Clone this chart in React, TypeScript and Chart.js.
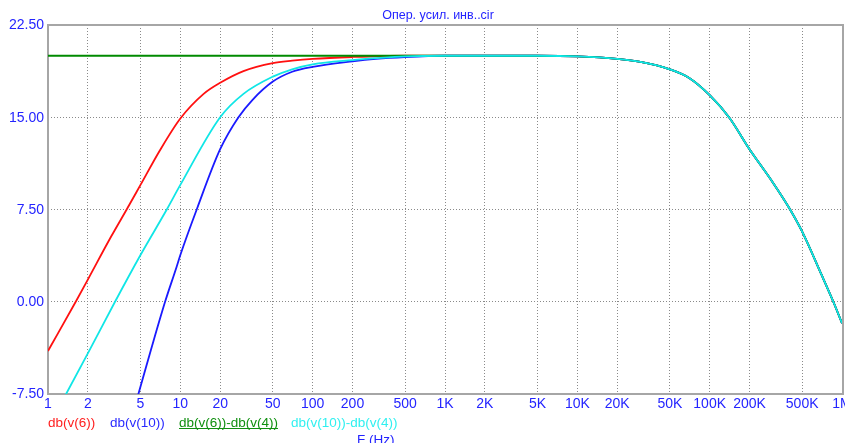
import React, { useEffect, useRef } from "react";
import { Chart, registerables } from "chart.js";

Chart.register(...registerables);

const chartTitle = "Опер. усил. инв..cir";
const xAxisTitle = "F (Hz)";

const xTickValues = [1, 2, 5, 10, 20, 50, 100, 200, 500, 1e3, 2e3, 5e3, 1e4, 2e4, 5e4, 1e5, 2e5, 5e5, 1e6];
const xTickLabels = ["1", "2", "5", "10", "20", "50", "100", "200", "500", "1K", "2K", "5K", "10K", "20K", "50K", "100K", "200K", "500K", "1M"];
const yTickValues = [-7.5, 0, 7.5, 15, 22.5];

const seriesNames = ["db(v(6))", "db(v(10))", "db(v(6))-db(v(4))", "db(v(10))-db(v(4))"];
const seriesColors = ["#ff1010", "#1a1aff", "#008a00", "#10e6e6"];
const legendColors = ["#ff2020", "#2a2aff", "#109010", "#30f0f0"];

// low-frequency parts (Hz, dB)
const redFreq = [1, 1.62, 2, 3, 3.93, 5, 7, 10, 15, 20, 30, 50, 70, 100, 200, 500];
const redDb = [-4.0, 0, 1.8, 5.3, 7.5, 9.5, 12.3, 14.9, 16.9, 17.8, 18.75, 19.4, 19.6, 19.75, 19.9, 20.0];

const blueFreq = [4, 4.82, 6, 7.67, 9.38, 10, 13.3, 20, 27.5, 35, 50, 70, 100, 200, 300, 500];
const blueDb = [-10.5, -7.5, -3.9, 0, 2.85, 3.8, 7.5, 12.4, 15.0, 16.4, 17.9, 18.7, 19.1, 19.55, 19.75, 19.9];

const greenFreq = [1, 10, 100, 500];
const greenDb = [20, 20, 20, 20];

const cyanFreq = [1, 1.37, 2, 3.21, 5, 7.9, 10, 20, 30, 50, 70, 100, 200, 300, 500];
const cyanDb = [-10.2, -7.5, -4.2, 0, 3.8, 7.5, 9.5, 15.0, 16.9, 18.3, 18.9, 19.3, 19.65, 19.8, 19.95];

// common high-frequency roll-off (Hz, dB)
const hiFreq = [1e3, 2e3, 5e3, 1e4, 2e4, 3e4, 5e4, 7e4, 1e5, 1.4e5, 2e5, 3e5, 4e5, 5e5, 7e5, 8.6e5, 1e6];
const hiDb = [20, 20, 20, 19.95, 19.75, 19.5, 18.9, 18.2, 16.8, 15.0, 12.4, 9.7, 7.6, 5.7, 2.2, 0, -1.75];

const toPoints = (f: number[], d: number[]) => {
  const pts = f.map((x, i) => ({ x, y: d[i] }));
  return pts.concat(hiFreq.map((x, i) => ({ x, y: hiDb[i] })));
};

export default function App() {
  const ref = useRef<HTMLCanvasElement | null>(null);

  useEffect(() => {
    document.body.style.margin = "0";
    const canvas = ref.current;
    if (!canvas) return;

    const textBlue = "#2424ff";
    const font = "'Liberation Sans', Arial, sans-serif";

    const decor = {
      id: "decor",
      beforeDatasetsDraw(chart: any) {
        const { ctx, chartArea } = chart;
        ctx.save();
        ctx.strokeStyle = "#a6a6a6";
        ctx.lineWidth = 2;
        ctx.strokeRect(chartArea.left, chartArea.top, chartArea.right - chartArea.left + 1, chartArea.bottom - chartArea.top);
        ctx.restore();
      },
      afterDraw(chart: any) {
        const { ctx, chartArea } = chart;
        const xs = chart.scales.x;
        const ys = chart.scales.y;
        ctx.save();
        ctx.fillStyle = textBlue;
        ctx.font = `14px ${font}`;
        ctx.textBaseline = "middle";
        ctx.textAlign = "right";
        yTickValues.forEach((v) => {
          ctx.fillText(v.toFixed(2), chartArea.left - 4, ys.getPixelForValue(v) + 0.5);
        });
        ctx.textAlign = "center";
        xTickValues.forEach((v, i) => {
          ctx.fillText(xTickLabels[i], xs.getPixelForValue(v), chartArea.bottom + 10);
        });
        // title
        ctx.font = `12.5px ${font}`;
        ctx.fillText(chartTitle, 438, 16);
        // legend
        ctx.font = `13.5px ${font}`;
        ctx.textAlign = "left";
        const lx = [48, 110, 179, 291];
        const ly = chartArea.bottom + 29;
        seriesNames.forEach((n, i) => {
          ctx.fillStyle = legendColors[i];
          ctx.fillText(n, lx[i], ly);
          if (i === 2) {
            const w = ctx.measureText(n).width;
            ctx.fillRect(lx[i], ly + 5, w, 1);
          }
        });
        ctx.fillStyle = textBlue;
        ctx.fillText(xAxisTitle, 357, ly + 17);
        ctx.restore();
      },
    };

    const mk = (i: number, f: number[], d: number[], order: number) => ({
      label: seriesNames[i],
      data: toPoints(f, d),
      borderColor: seriesColors[i],
      backgroundColor: seriesColors[i],
      borderWidth: 1.8,
      pointRadius: 0,
      cubicInterpolationMode: "monotone",
      fill: false,
      order,
    });

    const chart = new Chart(canvas, {
      type: "line",
      data: {
        datasets: [
          mk(0, redFreq, redDb, 3),
          mk(1, blueFreq, blueDb, 2),
          mk(2, greenFreq, greenDb, 1),
          mk(3, cyanFreq, cyanDb, 0),
        ],
      },
      options: {
        responsive: false,
        animation: false,
        events: [],
        layout: { padding: { left: 0, top: 25, right: 3, bottom: 0 } },
        plugins: { legend: { display: false }, tooltip: { enabled: false }, title: { display: false } },
        scales: {
          x: {
            type: "logarithmic",
            min: 1,
            max: 1e6,
            afterBuildTicks: (s: any) => {
              s.ticks = xTickValues.map((v) => ({ value: v }));
            },
            afterFit: (s: any) => {
              s.height = 49;
            },
            ticks: { display: false },
            grid: { color: "#8a8a8a", lineWidth: 1, drawTicks: false },
            border: { display: false, dash: [1, 2] },
          },
          y: {
            type: "linear",
            min: -7.5,
            max: 22.5,
            ticks: { display: false, stepSize: 7.5 },
            afterFit: (s: any) => {
              s.width = 48;
            },
            grid: { color: "#8a8a8a", lineWidth: 1, drawTicks: false },
            border: { display: false, dash: [1, 2] },
          },
        },
      },
      plugins: [decor],
    } as any);

    return () => chart.destroy();
  }, []);

  return <canvas ref={ref} width={845} height={443} style={{ display: "block" }} />;
}
